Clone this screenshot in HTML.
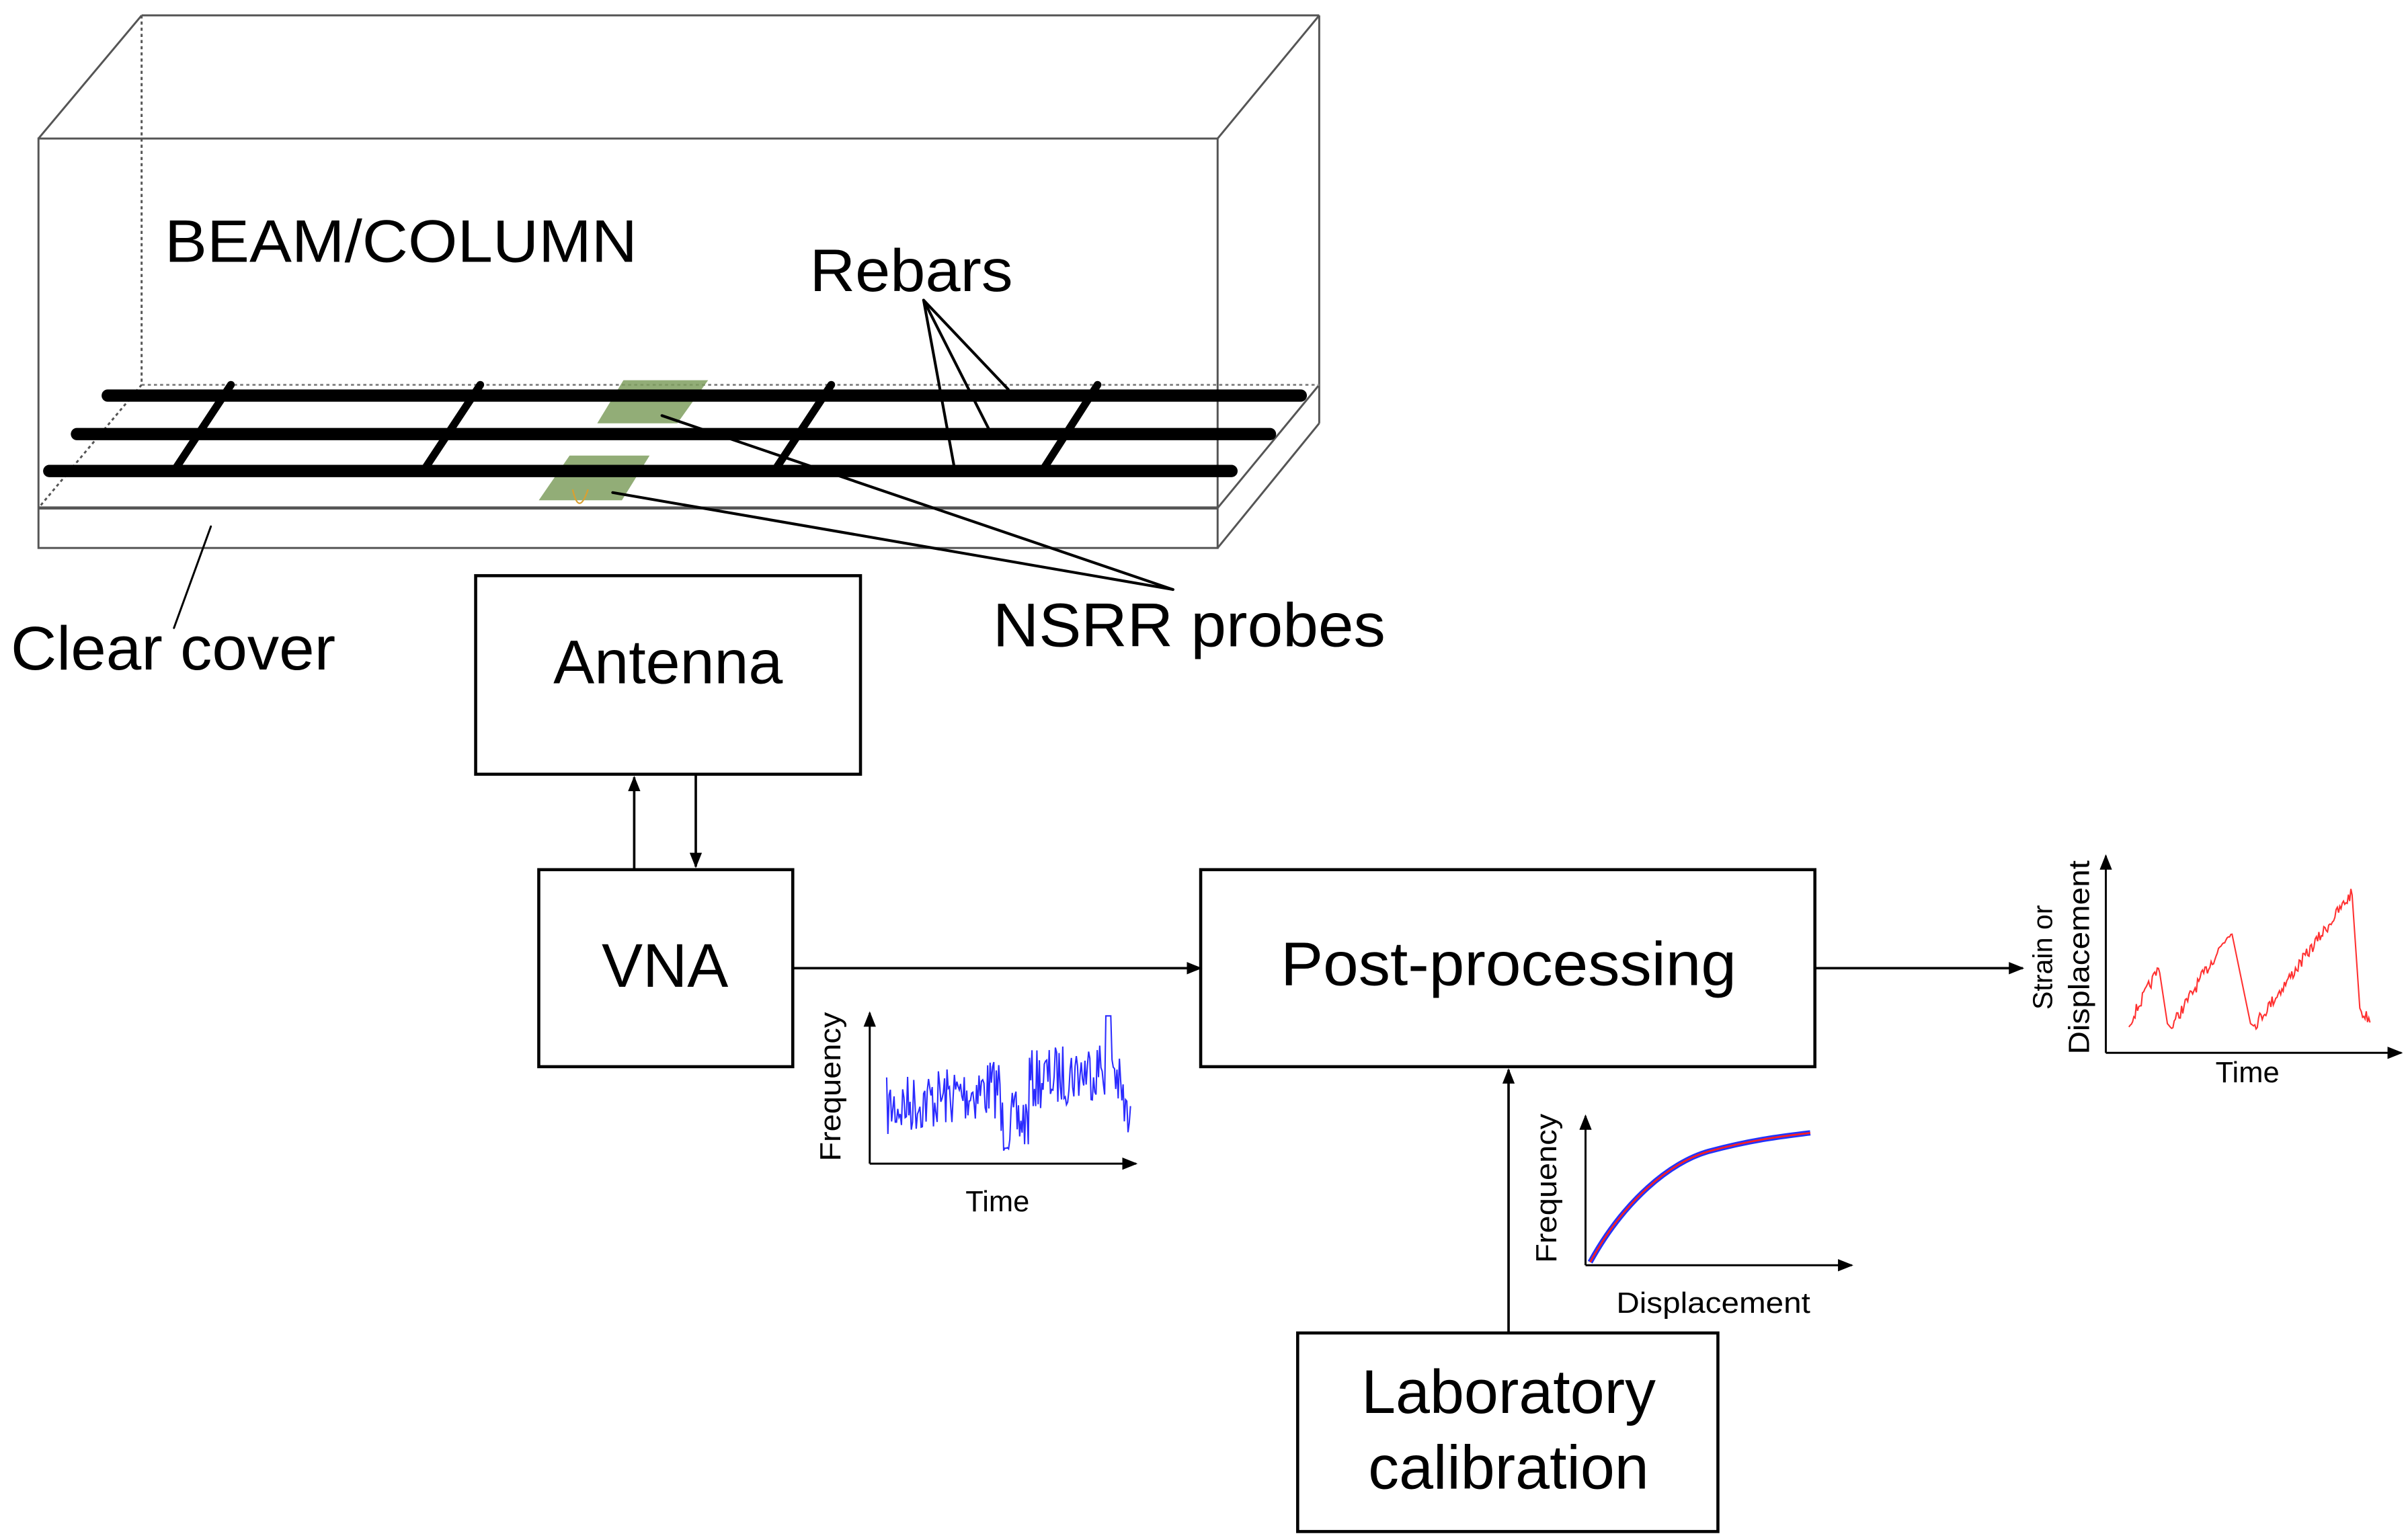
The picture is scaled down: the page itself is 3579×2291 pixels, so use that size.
<!DOCTYPE html>
<html><head><meta charset="utf-8"><style>
html,body{margin:0;padding:0;background:#fff;}
svg{display:block;}
text{font-family:"Liberation Sans",Arial,sans-serif;fill:#000;}
</style></head><body>
<svg width="3579" height="2291" viewBox="0 0 1563 1000.5" preserveAspectRatio="none" xmlns="http://www.w3.org/2000/svg">
<defs>
<marker id="ah" markerWidth="10" markerHeight="8" refX="9" refY="4" orient="auto" markerUnits="userSpaceOnUse">
<path d="M0,0 L10,4 L0,8 z" fill="#000"/></marker>
</defs>
<g stroke="#555" stroke-width="1.3" fill="none">
<rect x="25" y="90" width="766" height="266"/>
<line x1="92" y1="10" x2="857" y2="10"/>
<line x1="25" y1="90" x2="92" y2="10"/>
<line x1="791" y1="90" x2="857" y2="10"/>
<line x1="857" y1="10" x2="857" y2="275"/>
<line x1="857" y1="275" x2="791" y2="356"/>
<line x1="857" y1="250" x2="791" y2="330"/>
<line x1="25" y1="330" x2="791" y2="330" stroke-width="2"/>
<line x1="92" y1="10" x2="92" y2="250" stroke-dasharray="2,2"/>
<line x1="92" y1="250" x2="857" y2="250" stroke-dasharray="2,2" stroke="#888"/>
<line x1="92" y1="250" x2="25" y2="330" stroke-dasharray="2,2"/>
</g>
<g fill="#7f9f5f" opacity="0.85">
<polygon points="405,247 460,247 440,275 388,275"/>
<polygon points="370,296 422,296 404,325 350,325"/>
</g>
<path d="M372,318 q4,18 10,0" stroke="#d9a030" fill="none" stroke-width="1"/>
<g stroke="#000" stroke-linecap="round">
<line x1="70" y1="257" x2="845" y2="257" stroke-width="8"/>
<line x1="50" y1="282" x2="825" y2="282" stroke-width="8"/>
<line x1="32" y1="306" x2="800" y2="306" stroke-width="8"/>
<g stroke-width="5">
<line x1="150" y1="250" x2="113" y2="306"/>
<line x1="312" y1="250" x2="275" y2="306"/>
<line x1="540" y1="250" x2="503" y2="306"/>
<line x1="713" y1="250" x2="677" y2="306"/>
</g>
<g stroke-width="1.8">
<line x1="600" y1="195" x2="655" y2="253"/>
<line x1="600" y1="195" x2="643" y2="280"/>
<line x1="600" y1="195" x2="620" y2="304"/>
<line x1="430" y1="270" x2="762" y2="383"/>
<line x1="398" y1="320" x2="762" y2="383"/>
<line x1="137" y1="342" x2="113" y2="408" stroke-width="1.3"/>
</g>
</g>
<text x="107" y="170" font-size="39" textLength="307" lengthAdjust="spacingAndGlyphs">BEAM/COLUMN</text>
<text x="526" y="189" font-size="39" textLength="132" lengthAdjust="spacingAndGlyphs">Rebars</text>
<text x="7" y="435" font-size="40" textLength="211" lengthAdjust="spacingAndGlyphs">Clear cover</text>
<text x="645" y="420" font-size="40" textLength="255" lengthAdjust="spacingAndGlyphs">NSRR probes</text>
<g stroke="#000" stroke-width="2" fill="none">
<rect x="309" y="374" width="250" height="129"/>
<rect x="350" y="565" width="165" height="128"/>
<rect x="780" y="565" width="399" height="128"/>
<rect x="843" y="866" width="273" height="129"/>
</g>
<g stroke="#000" stroke-width="1.6" fill="none" marker-end="url(#ah)">
<line x1="412" y1="565" x2="412" y2="505"/>
<line x1="452" y1="503" x2="452" y2="563"/>
<line x1="515" y1="629" x2="780" y2="629"/>
<line x1="1179" y1="629" x2="1314" y2="629"/>
<line x1="980" y1="866" x2="980" y2="695"/>
</g>
<g text-anchor="middle" font-size="40">
<text x="434" y="444">Antenna</text>
<text x="432" y="641">VNA</text>
<text x="980" y="640" textLength="296" lengthAdjust="spacingAndGlyphs">Post-processing</text>
<text x="980" y="918">Laboratory</text>
<text x="980" y="967">calibration</text>
</g>
<g stroke="#000" stroke-width="1.3" fill="none" marker-end="url(#ah)">
<polyline points="565,756 565,658"/><polyline points="565,756 738,756"/>
<polyline points="1030,822 1030,725"/><polyline points="1030,822 1203,822"/>
<polyline points="1368,684 1368,556"/><polyline points="1368,684 1560,684"/>
</g>
<g font-size="19" text-anchor="middle">
<text transform="translate(546,706) rotate(-90)" textLength="97" lengthAdjust="spacingAndGlyphs">Frequency</text>
<text x="648" y="787">Time</text>
<text transform="translate(1011,772) rotate(-90)" textLength="97" lengthAdjust="spacingAndGlyphs">Frequency</text>
<text x="1113" y="853" textLength="126" lengthAdjust="spacingAndGlyphs">Displacement</text>
<text transform="translate(1333,622) rotate(-90)" font-size="18">Strain or</text>
<text transform="translate(1357,622) rotate(-90)" textLength="126" lengthAdjust="spacingAndGlyphs">Displacement</text>
<text x="1460" y="703">Time</text>
</g>
<path id="p1" stroke="#2b2bff" stroke-width="0.9" fill="none"/>
<path d="M1033,820 C1055,780 1085,755 1110,748 C1140,740 1160,738 1176,736" stroke="#2233ff" stroke-width="3.5" fill="none"/>
<path d="M1033,820 C1055,780 1085,755 1110,748 C1140,740 1160,738 1176,736" stroke="#ff2020" stroke-width="1.2" fill="none"/>
<path id="p3" stroke="#ff3030" stroke-width="0.9" fill="none"/>
<script>
(function(){
var s=7;function r(){s=(s*16807)%2147483647;return s/2147483647;}
var d="";for(var x=576;x<=735;x+=0.8){
var t=(x-576)/159;var base=720-t*30;
if(x>650&&x<668)base+=25; if(x>718)base=670+(x-718)*4;
var y=base+(r()-0.5)*40; if(x>718&&x<722)y=660;
d+=(d?"L":"M")+x.toFixed(1)+","+y.toFixed(1);}
document.getElementById("p1").setAttribute("d",d);
var e="";function seg(x0,x1,y0,y1){for(var x=x0;x<=x1;x+=0.8){var y=y0+(y1-y0)*(x-x0)/(x1-x0)+(r()-0.5)*8;e+=(e?"L":"M")+x.toFixed(1)+","+y.toFixed(1);}}
seg(1383,1403,665,628);e+="L1408,665";seg(1410,1450,668,603);e+="L1462,665";seg(1464,1528,667,580);e+="L1533,655";seg(1534,1540,658,662);
document.getElementById("p3").setAttribute("d",e);
})();
</script>
</svg>
</body></html>
